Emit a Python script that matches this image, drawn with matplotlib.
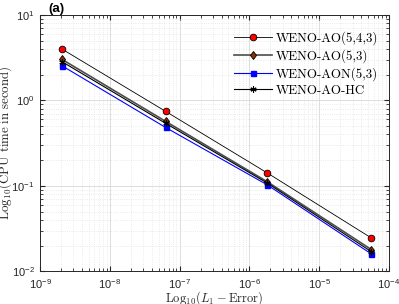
import matplotlib
matplotlib.use("Agg")
import matplotlib.pyplot as plt

plt.rcParams['font.family'] = ['Liberation Sans', 'DejaVu Sans']
plt.rcParams['mathtext.fontset'] = 'cm'

# L1 errors (x) for each scheme
err_ao543 = [2.05e-9, 6.3e-8, 1.8e-6, 5.6e-5]
err_ao53 = [2.05e-9, 6.3e-8, 1.8e-6, 5.6e-5]
err_aon53 = [2.05e-9, 6.3e-8, 1.8e-6, 5.6e-5]
err_aohc = [2.05e-9, 6.3e-8, 1.8e-6, 5.6e-5]

# CPU times (y)
cpu_ao543 = [4.0, 0.745, 0.142, 0.0246]
cpu_ao53 = [3.03, 0.569, 0.112, 0.0180]
cpu_aon53 = [2.55, 0.483, 0.103, 0.0160]
cpu_aohc = [2.85, 0.54, 0.108, 0.0170]

labels = ['WENO-AO(5,4,3)', 'WENO-AO(5,3)', 'WENO-AON(5,3)', 'WENO-AO-HC']

fig = plt.figure(figsize=(3.99, 3.04), dpi=100)
ax = fig.add_axes([0.1003, 0.107, 0.8747, 0.844])

ax.loglog(err_ao543, cpu_ao543, '-o', color='k', lw=0.6, mfc='red', mec='k',
          mew=0.6, ms=4.8, label=labels[0])
ax.loglog(err_ao53, cpu_ao53, '-d', color=(0.3, 0.3, 0.3), lw=1.2, mfc=(0.55, 0.2, 0.0),
          mec='k', mew=0.6, ms=4.5, label=labels[1])
ax.loglog(err_aon53, cpu_aon53, '-s', color='blue', lw=0.8, mfc='blue', mec='blue',
          ms=3.6, label=labels[2])
ax.loglog(err_aohc, cpu_aohc, '-', marker=(6, 2, 0), color='k', lw=0.8, mec='k',
          mew=0.8, ms=4.5, label=labels[3])

ax.set_xlim(1e-9, 1e-4)
ax.set_ylim(1e-2, 1e1)

ax.grid(True, which='major', color='#d8d8d8', lw=0.6)
ax.grid(True, which='minor', color='#e4e4e4', lw=0.6, ls=':')
ax.set_axisbelow(True)

ax.tick_params(which='both', direction='in', top=True, right=True, colors='#262626',
               labelsize=8)
ax.tick_params(which='major', length=3.5)
ax.tick_params(which='minor', length=2)
ax.tick_params(axis='x', which='major', pad=4)
ax.tick_params(axis='y', which='major', pad=4)
for s in ax.spines.values():
    s.set_color('#262626')
    s.set_linewidth(0.7)

ax.set_xlabel(r'$\mathrm{Log}_{10}(L_1-\mathrm{Error})$', fontsize=9, color='#262626',
              va='center')
ax.xaxis.set_label_coords(0.5, -0.104)
ax.set_ylabel(r'$\mathrm{Log}_{10}(\mathrm{CPU\ time\ in\ second})$', fontsize=9.3,
              color='#262626', va='center')
ax.yaxis.set_label_coords(-0.099, 0.5)

leg = ax.legend(loc='upper right', bbox_to_anchor=(0.985, 0.955), frameon=False,
                prop={'family': 'cmr10', 'size': 9.3},
                handlelength=3.0, labelspacing=0.3, handletextpad=0.3,
                borderaxespad=0.0)

fig.text(0.12, 0.972, '(a)', fontweight='bold', fontsize=9.5, va='center', ha='left')

fig.savefig('out.png', dpi=100)
